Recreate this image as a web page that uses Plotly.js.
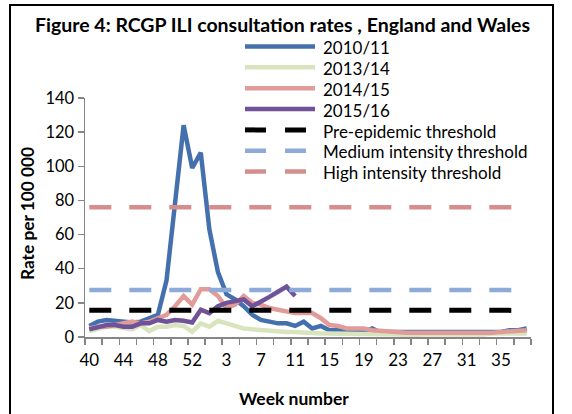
<!DOCTYPE html>
<html><head><meta charset="utf-8">
<script src="https://cdn.plot.ly/plotly-3.0.1.min.js"></script>
<style>
html,body{margin:0;padding:0;background:#fff;width:572px;height:414px;overflow:hidden;}
#chart{position:absolute;left:0;top:0;width:572px;height:414px;}
#frame{position:absolute;left:9px;top:4px;width:541px;height:430px;border:2px solid #000;pointer-events:none;}
</style></head><body>
<div id="chart"></div><div id="frame"></div>
<script>
// Week labels (season runs from week 40 to week 38 of the following year)
const weeks = [40,41,42,43,44,45,46,47,48,49,50,51,52,53,1,2,3,4,5,6,7,8,9,10,11,12,13,14,15,16,17,18,19,20,21,22,23,24,25,26,27,28,29,30,31,32,33,34,35,36,37,38];
const tickWeeks = [40,44,48,52,3,7,11,15,19,23,27,31,35];

// ILI consultation rates per 100 000
const s2010_11 = [6.5,9,10,9.5,9,8.5,9,11,13,33, 78,124,99,108,63,38,25,22,18,13, 10,9,8,8,6.5,9,5,6.5,4,4, 3,3,3,5,2.5,3,3,3,2.5,3, 3,2.5,2.5,2.5,3,3,3,3,3,4, 4,5];
const s2013_14 = [3.5,5,6,6,5,4.5,7,3.5,6,6, 7,6.5,3,8,6,9.5,8,6.5,5,4.5, 4,3.5,3.5,3,3,2.5,2.5,2,2,2, 2,1.5,1.5,2,1.5,1.5,1.5,1,1.5,1.5, 1.5,1.5,1,1.5,1.5,1.5,1.5,2,2,2, 2,2];
const s2014_15 = [5,6,6,7,8,9,8,9,11,13, 18,24,19,28,28,24,17,19,24,20, 19,17,16,15,14,14,14,11,7,6.5, 5,5,5,4,3.5,3,3,2.5,2.5,2.5, 2,2,2.5,2.5,2.5,2.5,2.5,2.5,3,3.5, 4,4];
const s2015_16 = [4.5,6,7,7,6,6,8,8,10,9, 10,9.5,8.5,16,14,18,20,21,22,18, 20.5,23.5,26.5,29.5,24];

// Thresholds
const preEpidemic = 15.6;
const mediumIntensity = 27.5;
const highIntensity = 76;

const seriesNames = ['2010/11','2013/14','2014/15','2015/16','Pre-epidemic threshold','Medium intensity threshold','High intensity threshold'];
const seriesColors = ['#4471ad','#d7e4bd','#e19b99','#6f5297','#000000','#8eaad8','#d48e8e'];

const chartTitle = 'Figure 4: RCGP ILI consultation rates , England and Wales';
const xTitle = 'Week number';
const yTitle = 'Rate per 100 000';

const idx = arr => arr.map((_, i) => i);
const seriesData = [s2010_11, s2013_14, s2014_15, s2015_16];
const traces = [];
seriesData.forEach((ys, k) => {
  traces.push({type:'scatter', mode:'lines', x: idx(ys), y: ys, name: seriesNames[k],
    line:{color: seriesColors[k], width: 4.5}, hoverinfo:'skip', showlegend:false});
});
const lastIdx = weeks.length - 1;
[preEpidemic, mediumIntensity, highIntensity].forEach((v, k) => {
  traces.push({type:'scatter', mode:'lines', x:[0, lastIdx], y:[v, v], name: seriesNames[4+k],
    line:{color: seriesColors[4+k], width: k===0 ? 5 : 4.5, dash:'22px,18px'}, hoverinfo:'skip', showlegend:false});
});

// plot geometry (pixels)
const L = 85, R = 41, T = 98, B = 77, W = 572, H = 414;
const pw = W - L - R, ph = H - T - B;
const px = x => (x - L) / pw;
const py = y => (H - B - y) / ph;

const shapes = [], annotations = [];
const legTop = 46.5, legStep = 20.85;
seriesNames.forEach((nm, k) => {
  const y = legTop + k * legStep;
  shapes.push({type:'line', xref:'paper', yref:'paper', x0: px(245), x1: px(315), y0: py(y), y1: py(y),
    line:{color: seriesColors[k], width: k < 4 ? 4.5 : (k===4 ? 5 : 4.5), dash: k < 4 ? 'solid' : '21px,19px'}, layer:'above'});
  annotations.push({xref:'paper', yref:'paper', x: px(321), y: py(y + 1.2), xanchor:'left', yanchor:'middle',
    text: nm, showarrow:false, font:{family:'Lato', size:17, color:'#000'}});
});
// axis titles
annotations.push({xref:'paper', yref:'paper', x: px(294), y: py(398), xanchor:'center', yanchor:'middle',
  text: xTitle, showarrow:false, font:{family:'Lato', size:17.5, weight:'bold', color:'#000'}});
annotations.push({xref:'paper', yref:'paper', x: px(27.5), y: py(213.5), xanchor:'center', yanchor:'middle', textangle:-90,
  text: yTitle, showarrow:false, font:{family:'Lato', size:17.3, weight:'bold', color:'#000'}});

const fontTick = {family:'Lato', size:17, color:'#000'};
const layout = {
  width: W, height: H, margin:{l:L, r:R, t:T, b:B}, paper_bgcolor:'rgba(0,0,0,0)', plot_bgcolor:'rgba(0,0,0,0)',
  showlegend:false,
  title:{text: chartTitle, font:{family:'Lato', size:19.5, weight:'bold', color:'#000'},
    xref:'container', yref:'container', x: 282.5/W, xanchor:'center', y: 1 - 25.5/H, yanchor:'middle'},
  xaxis:{range:[-0.5, lastIdx + 0.5], tickmode:'array', tickvals: tickWeeks.map(w => weeks.indexOf(w)), ticktext: tickWeeks.map(String),
    ticks:'outside', ticklen:7, tickcolor:'rgba(0,0,0,0)', showline:true, linecolor:'#868686', linewidth:1.5,
    showgrid:false, zeroline:false, tickfont: fontTick,
    minor:{tickmode:'linear', tick0:-0.5, dtick:2, ticks:'outside', ticklen:6, tickcolor:'#868686', tickwidth:1.5, showgrid:false}},
  yaxis:{range:[0,140], tick0:0, dtick:20, ticks:'outside', ticklen:6, tickcolor:'#868686', tickwidth:1.5,
    showline:true, linecolor:'#868686', linewidth:1.5, showgrid:false, zeroline:false, tickfont: {family:'Lato', size:16.5, color:'#000'}},
  shapes, annotations
};
Plotly.newPlot('chart', traces, layout, {staticPlot:true, displayModeBar:false});
</script>
</body></html>
